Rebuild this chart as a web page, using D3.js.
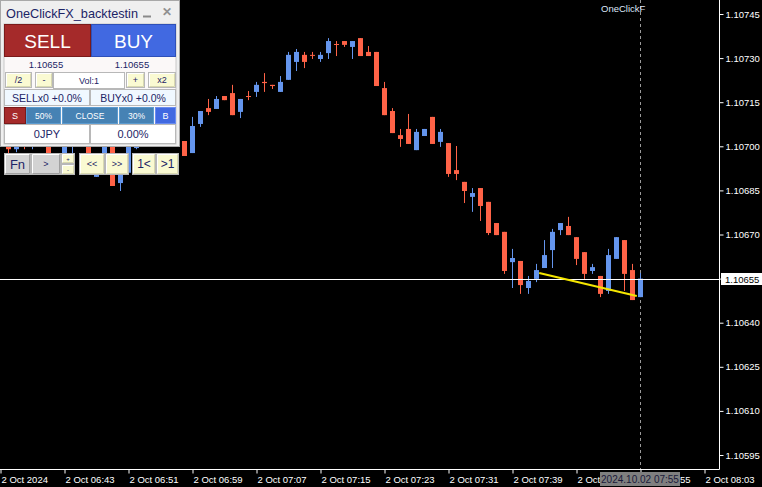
<!DOCTYPE html>
<html><head><meta charset="utf-8">
<script src="https://cdn.jsdelivr.net/npm/d3@7/dist/d3.min.js"></script>
<style>
html,body{margin:0;padding:0;background:#000;}
svg{display:block;}
text{font-family:"Liberation Sans",Arial,sans-serif;}
</style></head>
<body>
<svg id="c" width="762" height="487"></svg>
<script>
// ---------- DATA ----------
const timeLabels = ["2 Oct 2024","2 Oct 06:43","2 Oct 06:51","2 Oct 06:59","2 Oct 07:07","2 Oct 07:15",
  "2 Oct 07:23","2 Oct 07:31","2 Oct 07:39","2 Oct 07:47","2 Oct 07:55","2 Oct 08:03"];
const timeTickIdx = [0,8,16,24,32,40,48,56,64,72,80,88];
const priceTicks = [1.10745,1.10730,1.10715,1.10700,1.10685,1.10670,1.10655,1.10640,1.10625,1.10610,1.10595];

const opens = [1.10705,1.10702,1.10699,1.10703,1.10700,1.10704,1.10702,1.10693,1.10695,1.107005,
  1.10703,1.107005,1.106896,1.10694,1.10701,1.106875,1.10691,1.106994,1.10703,1.107015,
  1.10704,1.10701,1.107035,1.107018,1.106977,1.107076,1.107130,1.107127,1.107171,1.107181,
  1.107117,1.107171,1.107185,1.107219,1.107209,1.107185,1.107226,1.107287,1.107311,1.107311,
  1.107297,1.107317,1.107348,1.107358,1.107338,1.107368,1.107321,1.107321,1.107198,1.107120,
  1.107038,1.107059,1.106987,1.107035,1.107100,1.107015,1.107011,1.106919,1.106879,1.106828,
  1.106858,1.106811,1.106739,1.106709,1.106606,1.106610,1.106518,1.106549,1.106586,1.106647,
  1.106715,1.106729,1.106691,1.106640,1.106576,1.106559,1.106508,1.106617,1.106681,1.106579,
  1.106487];
const highs = [1.10708,1.10704,1.10705,1.10704,1.10706,1.10705,1.10703,1.10697,1.10702,1.10704,
  1.10704,1.10703,1.10697,1.10702,1.10702,1.10696,1.10703,1.10705,1.10704,1.10706,
  1.10705,1.10705,1.10704,1.107018,1.107100,1.107120,1.107161,1.107171,1.107171,1.107209,
  1.107161,1.107188,1.107219,1.107249,1.107209,1.107239,1.107321,1.107331,1.107321,1.107321,
  1.107321,1.107368,1.107358,1.107358,1.107358,1.107368,1.107341,1.107321,1.107219,1.107130,
  1.107059,1.107110,1.107059,1.107059,1.107100,1.107059,1.107011,1.107001,1.106879,1.106858,
  1.106858,1.106811,1.106739,1.106709,1.106651,1.106610,1.106559,1.106600,1.106681,1.106719,
  1.106739,1.106760,1.106691,1.106640,1.106600,1.106559,1.106651,1.106691,1.106681,1.106600,
  1.106569];
const lows = [1.10700,1.10697,1.10698,1.10699,1.10699,1.10701,1.10695,1.10692,1.10694,1.10697,
  1.107005,1.10695,1.106896,1.10693,1.106865,1.106848,1.106905,1.10699,1.10701,1.10701,
  1.107005,1.107005,1.10701,1.106967,1.106977,1.107066,1.107106,1.107127,1.107157,1.107106,
  1.107096,1.107157,1.107168,1.107185,1.107195,1.107185,1.107226,1.107256,1.107266,1.107297,
  1.107287,1.107297,1.107307,1.107338,1.107297,1.107307,1.107307,1.107205,1.107106,1.107045,
  1.106998,1.107008,1.106987,1.107035,1.107008,1.106998,1.106896,1.106885,1.106807,1.106777,
  1.106746,1.106698,1.106698,1.106566,1.106518,1.106498,1.106498,1.106538,1.106586,1.106586,
  1.106698,1.106698,1.106596,1.106549,1.106566,1.106487,1.106498,1.106617,1.106508,1.106477,
  1.106487];
const closes = [1.10702,1.10699,1.10703,1.10700,1.10704,1.10702,1.10696,1.106965,1.10701,1.10703,
  1.10701,1.10696,1.10696,1.10701,1.106865,1.10695,1.10701,1.10703,1.107015,1.10704,
  1.10701,1.107035,1.107018,1.106967,1.107069,1.107120,1.107117,1.107161,1.107157,1.107106,
  1.107161,1.107168,1.107209,1.107215,1.107205,1.107219,1.107311,1.107321,1.107287,1.107308,
  1.107311,1.107358,1.107346,1.107345,1.107358,1.107307,1.107307,1.107205,1.107106,1.107045,
  1.107025,1.107008,1.107049,1.107059,1.107008,1.107049,1.106906,1.106906,1.106848,1.106841,
  1.106797,1.106705,1.106698,1.106576,1.106620,1.106528,1.106542,1.106579,1.106630,1.106709,
  1.106739,1.106698,1.106617,1.106566,1.106589,1.106498,1.106630,1.106691,1.106566,1.106477,
  1.106550];
const currentPrice = 1.10655;
const trendIdx = [67.4, 79.6];
const trendPrice = [1.106569, 1.106491];
const cursorIdx = 80;
const cursorLabel = "2024.10.02 07:55";

// ---------- SCALES ----------
const svg = d3.select("#c");
const W = 762, H = 487, plotR = 719, plotB = 469;
const x = d3.scaleLinear().domain([0, plotR/8]).range([0, plotR]);
const y = d3.scaleLinear().domain([1.10595, 1.10745]).range([455, 14]);

svg.append("rect").attr("width",W).attr("height",H).attr("fill","#000");
svg.append("defs").append("clipPath").attr("id","plot")
  .append("rect").attr("x",0).attr("y",0).attr("width",plotR).attr("height",plotB);

const bull = "#6495ed", bear = "#ff6347";
const candles = opens.map((o,i)=>({i,o,h:highs[i],l:lows[i],c:closes[i]}));

const g = svg.append("g").attr("clip-path","url(#plot)");
// cursor dashed vertical
g.append("line").attr("x1",Math.round(x(cursorIdx))+0.5).attr("x2",Math.round(x(cursorIdx))+0.5)
  .attr("y1",0).attr("y2",plotB).attr("stroke","#9a9a9a").attr("stroke-dasharray","3,3");

const cg = g.append("g");
cg.selectAll("line.w").data(candles).join("line").attr("class","w")
  .attr("x1",d=>Math.round(x(d.i))+0.5).attr("x2",d=>Math.round(x(d.i))+0.5)
  .attr("y1",d=>y(d.h)).attr("y2",d=>y(d.l))
  .attr("stroke",d=>d.c>=d.o?bull:bear).attr("stroke-width",1);
cg.selectAll("rect.b").data(candles).join("rect").attr("class","b")
  .attr("x",d=>Math.round(x(d.i))-2).attr("width",5)
  .attr("y",d=>Math.min(y(d.o),y(d.c)))
  .attr("height",d=>Math.max(1,Math.abs(y(d.o)-y(d.c))))
  .attr("fill",d=>d.c>=d.o?bull:bear);

// current price line
g.append("line").attr("x1",0).attr("x2",plotR).attr("y1",Math.round(y(currentPrice))+0.5)
  .attr("y2",Math.round(y(currentPrice))+0.5).attr("stroke","#fff");

// yellow trend line
g.append("line").attr("x1",x(trendIdx[0])).attr("x2",x(trendIdx[1]))
  .attr("y1",y(trendPrice[0])).attr("y2",y(trendPrice[1]))
  .attr("stroke","#f5e600").attr("stroke-width",2);

// ---------- AXES ----------
const ya = svg.append("g").attr("transform",`translate(${plotR+0.5},0)`)
  .call(d3.axisRight(y).tickValues(priceTicks).tickFormat(d3.format(".5f")).tickSize(4).tickSizeOuter(0).tickPadding(2));
ya.select(".domain").remove();
ya.selectAll("line").attr("stroke","#fff");
ya.selectAll("text").attr("fill","#fff").style("font-size","9.5px").style("font-family","Liberation Sans, Arial");
svg.append("line").attr("x1",plotR+0.5).attr("x2",plotR+0.5).attr("y1",0).attr("y2",plotB+0.5).attr("stroke","#fff");

const xa = svg.append("g").attr("transform",`translate(0,${plotB+0.5})`)
  .call(d3.axisBottom(x).tickValues(timeTickIdx).tickFormat((d,i)=>timeLabels[i]).tickSize(4).tickSizeOuter(0));
xa.select(".domain").remove();
xa.selectAll(".tick line").attr("stroke","#fff").attr("transform","translate(0.5,0)");
xa.selectAll("text").attr("fill","#fff").attr("text-anchor","start").attr("x",1).attr("y",7).attr("dy","0.71em")
  .style("font-size","9.5px").style("font-family","Liberation Sans, Arial");
svg.append("line").attr("x1",0).attr("x2",plotR+0.5).attr("y1",plotB+0.5).attr("y2",plotB+0.5).attr("stroke","#fff");

// current price label
const cpY = Math.round(y(currentPrice));
svg.append("rect").attr("x",721).attr("y",cpY-6).attr("width",41).attr("height",12).attr("fill","#fff");
svg.append("text").attr("x",725).attr("y",cpY+3.5).attr("fill","#000").style("font-size","9.5px").text(d3.format(".5f")(currentPrice));

// cursor time label
const cx = Math.round(x(cursorIdx));
svg.append("rect").attr("x",cx-40).attr("y",472).attr("width",80).attr("height",14).attr("fill","#7f7f7f");
svg.append("text").attr("x",cx).attr("y",483).attr("text-anchor","middle").attr("fill","#1a1a3a")
  .style("font-size","10px").text(cursorLabel);

// indicator label
svg.append("text").attr("x",601).attr("y",12).attr("fill","#dce6f8").style("font-size","9.5px").text("OneClickF");

// ---------- PANEL ----------
const P = svg.append("g");
const navy = "#1c2466";
function box(x0,y0,w,h,fill,txt,opt={}) {
  P.append("rect").attr("x",x0+0.5).attr("y",y0+0.5).attr("width",w-1).attr("height",h-1)
    .attr("fill",fill).attr("stroke",opt.stroke||"#b8b8b8");
  if (opt.bevel) {
    P.append("path").attr("d",`M${x0+1.5},${y0+h-1.5}V${y0+1.5}H${x0+w-1.5}`).attr("stroke","#fff").attr("fill","none");
    P.append("path").attr("d",`M${x0+1.5},${y0+h-1.5}H${x0+w-1.5}V${y0+1.5}`).attr("stroke",opt.dark||"#8a8a8a").attr("fill","none");
  }
  if (txt!==undefined) P.append("text").attr("x",x0+w/2+(opt.dx||0)).attr("y",y0+h/2+(opt.dy||0)).attr("text-anchor","middle")
    .attr("dominant-baseline","central").attr("fill",opt.color||navy).style("font-size",(opt.fs||10)+"px")
    .style("font-weight",opt.fw||"normal").text(txt);
}
P.append("rect").attr("x",0.5).attr("y",0.5).attr("width",179).attr("height",146).attr("fill","#efefef").attr("stroke","#a8a8a8");
P.append("text").attr("x",6).attr("y",18).attr("fill",navy).style("font-size","13.5px")
  .attr("textLength",132).attr("lengthAdjust","spacingAndGlyphs").text("OneClickFX_backtestin");
P.append("line").attr("x1",143).attr("x2",151).attr("y1",16.5).attr("y2",16.5).attr("stroke","#8a8a8a").attr("stroke-width",2);
P.append("text").attr("x",167).attr("y",16).attr("text-anchor","middle").attr("fill","#909090").style("font-size","12px").style("font-weight","bold").text("✕");
P.append("rect").attr("x",4).attr("y",24).attr("width",172).attr("height",120).attr("fill","#fbf8f8").attr("stroke","#c8c8c8");

box(4,24,87,33,"#a52a2a","SELL",{color:"#fff",fs:19,stroke:"#7a1a1a",dy:1});
box(91,24,85,33,"#4169e1","BUY",{color:"#fff",fs:19,stroke:"#2e50b8",dy:1});
P.append("text").attr("x",46).attr("y",68).attr("text-anchor","middle").attr("fill",navy).style("font-size","9.5px").text("1.10655");
P.append("text").attr("x",132).attr("y",68).attr("text-anchor","middle").attr("fill",navy).style("font-size","9.5px").text("1.10655");

box(5,72,27,16,"#fafad2","/2",{fs:9,bevel:true,dark:"#d8d8b0"});
box(35,72,18,16,"#fafad2","-",{fs:9,bevel:true,dark:"#d8d8b0"});
box(53,72,72,17,"#ffffff","Vol:1",{fs:9});
box(126,72,19,16,"#fafad2","+",{fs:9,bevel:true,dark:"#d8d8b0"});
box(148,72,28,16,"#fafad2","x2",{fs:9,bevel:true,dark:"#d8d8b0"});

box(4,89,86,17,"#f0f8ff","SELLx0 +0.0%",{fs:10.5});
box(90,89,86,17,"#f0f8ff","BUYx0 +0.0%",{fs:10.5});

box(4,107,22,17,"#a52a2a","S",{color:"#fff",fs:9,stroke:"#7a1a1a"});
box(26,107,35,17,"#4682b4","50%",{color:"#fff",fs:8.5,stroke:"#5b9bd0"});
box(62,107,56,17,"#4682b4","CLOSE",{color:"#fff",fs:8.5,stroke:"#5b9bd0"});
box(119,107,35,17,"#4682b4","30%",{color:"#fff",fs:8.5,stroke:"#5b9bd0"});
box(155,107,21,17,"#4169e1","B",{color:"#fff",fs:9,stroke:"#6a8cf0"});

box(4,124,86,20,"#ffffff","0JPY",{fs:11});
box(90,124,86,20,"#ffffff","0.00%",{fs:11});

// button row
box(4,153,27,22,"#d3d3d3","Fn",{fs:13,bevel:true,dark:"#a0a0a0"});
box(31,153,30,22,"#d3d3d3",">",{fs:9,bevel:true,dark:"#a0a0a0"});
box(61,153,14,11,"#fafad2","+",{fs:6,bevel:true,dark:"#d8d8b0"});
box(61,164,14,11,"#fafad2","-",{fs:6,bevel:true,dark:"#d8d8b0"});
box(79,153,26,22,"#fafad2","<<",{fs:9,bevel:true,dark:"#d8d8b0"});
box(105,153,24,22,"#fafad2",">>",{fs:9,bevel:true,dark:"#d8d8b0"});
box(132,153,24,22,"#fafad2","1<",{fs:12,bevel:true,dark:"#d8d8b0"});
box(156,153,23,22,"#fafad2",">1",{fs:12,bevel:true,dark:"#d8d8b0"});
</script>
</body></html>
